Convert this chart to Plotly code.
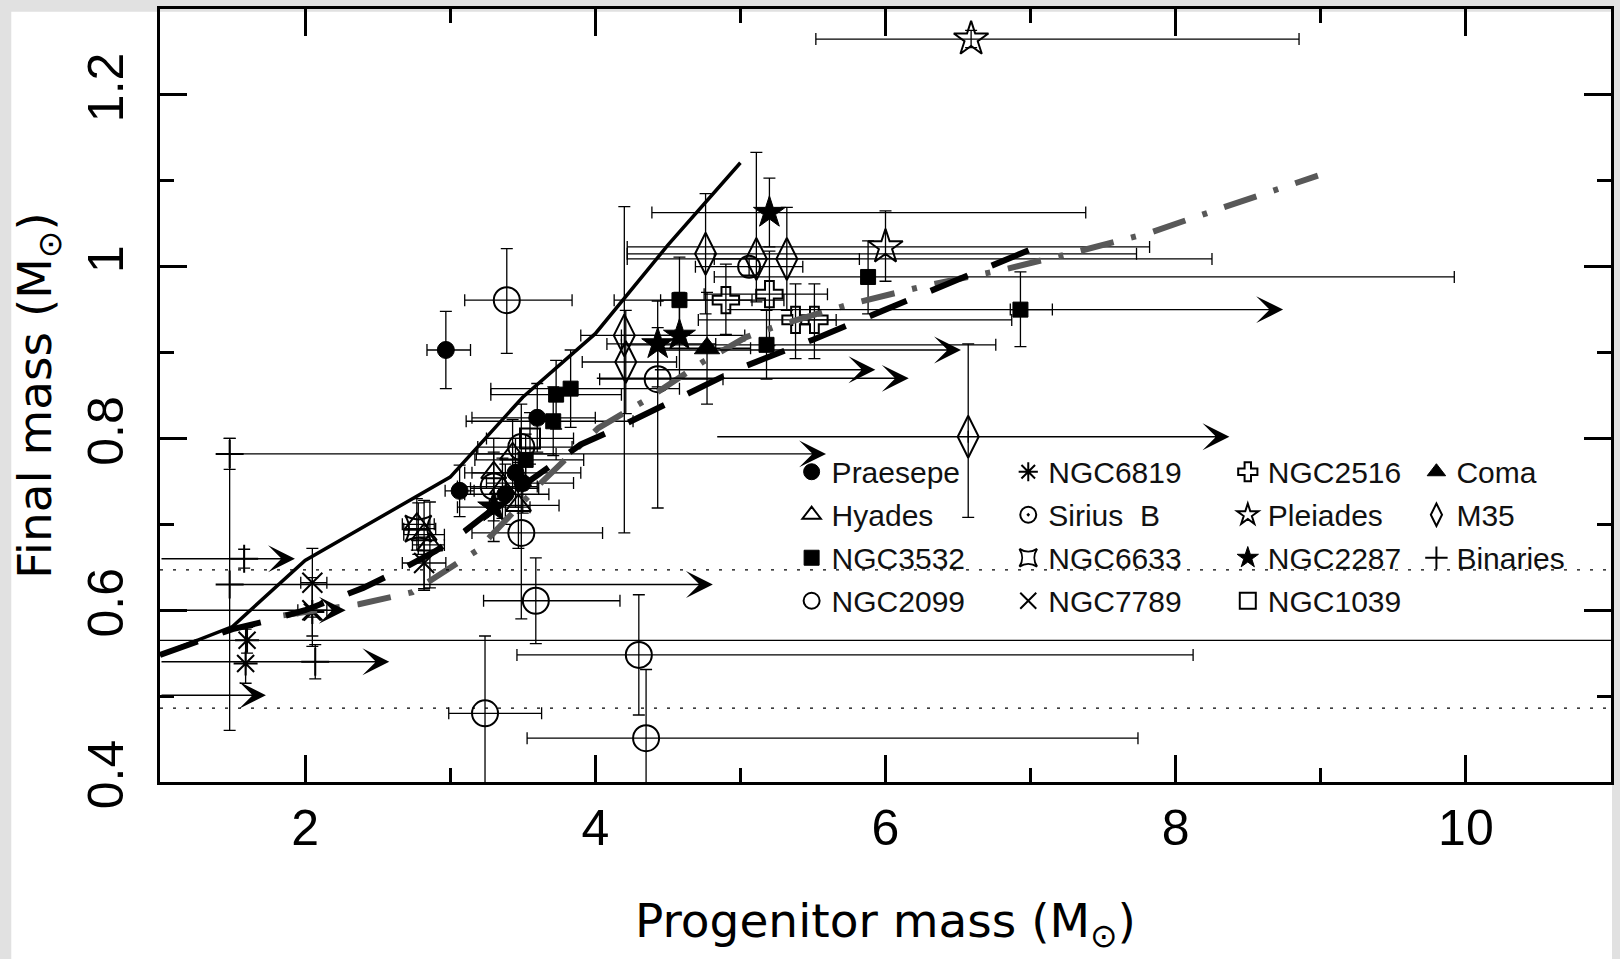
import plotly.graph_objects as go

FONT = "Liberation Sans, Arial, DejaVu Sans, sans-serif"
TFONT = "DejaVu Sans, Liberation Sans, sans-serif"

# ---------------- data ----------------
# model / fit curves
solid_x = [1.0, 1.5, 2.0, 3.0, 3.5, 4.0, 4.5, 5.0]
solid_y = [0.548, 0.581, 0.658, 0.755, 0.848, 0.922, 1.025, 1.121]

dash_x = [1.0, 1.5, 1.75, 2.0, 2.4, 2.67, 2.9, 3.1, 3.5, 3.9, 4.1, 4.6, 5.0, 5.5, 6.0, 6.5, 7.0]
dash_y = [0.548, 0.578, 0.588, 0.600, 0.626, 0.648, 0.669, 0.692, 0.745, 0.793, 0.808, 0.849, 0.882, 0.915, 0.950, 0.984, 1.020]

gray_x = [1.85, 2.37, 2.74, 2.92, 3.18, 3.30, 3.63, 4.02, 4.35, 4.74, 5.04, 5.27, 5.77, 6.28, 6.80, 7.31, 7.83, 8.33, 8.98]
gray_y = [0.594, 0.607, 0.621, 0.640, 0.669, 0.690, 0.749, 0.812, 0.845, 0.889, 0.918, 0.932, 0.957, 0.978, 0.996, 1.017, 1.040, 1.069, 1.106]

# dotted reference levels
dotted_y = [0.647, 0.486]

# clusters: x, y, x-err minus, x-err plus, y-err minus, y-err plus
praesepe_x = [2.97, 3.065, 3.60, 3.45, 3.50, 3.38]
praesepe_y = [0.903, 0.739, 0.824, 0.760, 0.748, 0.735]
praesepe_exm = [0.13, 0.10, 0.45, 0.30, 0.25, 0.28]
praesepe_exp = [0.17, 0.10, 0.40, 0.45, 0.35, 0.30]
praesepe_eym = [0.045, 0.03, 0.04, 0.04, 0.035, 0.035]
praesepe_eyp = [0.045, 0.03, 0.04, 0.04, 0.035, 0.035]

hyades_x = [2.77, 2.82, 2.86, 3.30, 3.36, 3.43, 3.47]
hyades_y = [0.700, 0.688, 0.676, 0.760, 0.742, 0.782, 0.722]
hyades_exm = [0.10, 0.14, 0.12, 0.20, 0.22, 0.25, 0.20]
hyades_exp = [0.12, 0.14, 0.10, 0.22, 0.25, 0.30, 0.28]
hyades_eym = [0.03, 0.065, 0.05, 0.04, 0.035, 0.04, 0.05]
hyades_eyp = [0.03, 0.040, 0.05, 0.04, 0.035, 0.04, 0.05]

ngc3532_x = [3.52, 3.71, 3.73, 3.83, 4.58, 5.18, 5.88, 6.93]
ngc3532_y = [0.775, 0.820, 0.851, 0.858, 0.961, 0.909, 0.988, 0.950]
ngc3532_exm = [0.35, 0.60, 0.45, 0.55, 0.45, 1.00, 1.06, 0.07]
ngc3532_exp = [0.40, 0.55, 0.45, 0.75, 0.50, 1.58, 4.04, 0.22]
ngc3532_eym = [0.03, 0.04, 0.04, 0.045, 0.05, 0.04, 0.043, 0.043]
ngc3532_eyp = [0.03, 0.04, 0.04, 0.045, 0.05, 0.04, 0.042, 0.044]

ngc2099_x = [3.39, 3.49, 3.59, 4.30, 3.24, 4.35, 4.43, 3.30, 3.49]
ngc2099_y = [0.961, 0.690, 0.611, 0.548, 0.480, 0.451, 0.869, 0.744, 0.790]
ngc2099_exm = [0.29, 0.34, 0.36, 0.84, 0.25, 0.82, 0.40, 0.25, 0.30]
ngc2099_exp = [0.45, 0.56, 0.58, 3.82, 0.39, 3.39, 0.45, 0.30, 0.35]
ngc2099_eym = [0.062, 0.10, 0.05, 0.07, 0.10, 0.06, 0.15, 0.04, 0.05]
ngc2099_eyp = [0.060, 0.05, 0.05, 0.07, 0.09, 0.08, 0.06, 0.04, 0.05]

ngc6819_x = [1.60, 1.59, 2.05]
ngc6819_y = [0.565, 0.538, 0.598]
ngc6819_exm = [1.0, None, None]
ngc6819_exp = [9.5, None, None]
ngc6819_eym = [0.015, 0.023, 0.04]
ngc6819_eyp = [0.015, 0.040, 0.04]

siriusb_x = [5.06]
siriusb_y = [1.000]
siriusb_exm = [0.37]
siriusb_exp = [0.37]
siriusb_eym = [0.01]
siriusb_eyp = [0.01]

ngc6633_x = [2.78]
ngc6633_y = [0.695]
ngc6633_exm = [0.10]
ngc6633_exp = [0.12]
ngc6633_eym = [0.03]
ngc6633_eyp = [0.03]

ngc7789_x = [2.05, 2.05, 2.82]
ngc7789_y = [0.632, 0.600, 0.655]
ngc7789_exm = [0.08, 0.10, 0.15]
ngc7789_exp = [0.10, 0.10, 0.15]
ngc7789_eym = [0.04, 0.03, 0.03]
ngc7789_eyp = [0.04, 0.03, 0.03]

ngc2516_x = [4.90, 5.20, 5.38, 5.51]
ngc2516_y = [0.961, 0.968, 0.938, 0.938]
ngc2516_exm = [0.45, 0.45, 0.67, 0.15]
ngc2516_exp = [0.40, 0.40, 1.49, 0.15]
ngc2516_eym = [0.040, 0.06, 0.045, 0.045]
ngc2516_eyp = [0.042, 0.05, 0.042, 0.042]

pleiades_x = [6.59, 6.00]
pleiades_y = [1.265, 1.023]
pleiades_exm = [1.07, 1.78]
pleiades_exp = [2.26, 1.82]
pleiades_eym = [0.010, 0.040]
pleiades_eyp = [0.010, 0.042]

ngc2287_x = [5.20, 4.58, 4.43, 3.30]
ngc2287_y = [1.063, 0.920, 0.910, 0.720]
ngc2287_exm = [0.81, 0.40, 0.35, 0.25]
ngc2287_exp = [2.18, 0.45, 0.40, 0.25]
ngc2287_eym = [0.04, 0.05, 0.05, 0.04]
ngc2287_eyp = [0.04, 0.05, 0.05, 0.04]

ngc1039_x = [3.55]
ngc1039_y = [0.800]
ngc1039_exm = [0.30]
ngc1039_exp = [0.30]
ngc1039_eym = [0.03]
ngc1039_eyp = [0.03]

coma_x = [4.77]
coma_y = [0.905]
coma_exm = [0.30]
coma_exp = [0.30]
coma_eym = [0.065]
coma_eyp = [0.065]

m35_x = [4.76, 5.11, 5.32, 4.20, 4.21, 6.57]
m35_y = [1.015, 1.009, 1.009, 0.920, 0.889, 0.802]
m35_exm = [0.54, 0.89, 0.50, 0.30, 0.30, None]
m35_exp = [2.97, 3.14, 0.50, 0.35, 0.35, None]
m35_eym = [0.07, 0.05, 0.06, 0.23, 0.06, 0.094]
m35_eyp = [0.07, 0.124, 0.06, 0.15, 0.06, 0.108]

binaries_x = [1.58, 2.07, 1.48, 1.48]
binaries_y = [0.660, 0.540, 0.630, 0.782]
binaries_eym = [0.011, 0.02, 0.17, 0.018]
binaries_eyp = [0.011, 0.02, 0.17, 0.018]

# lower limits in progenitor mass (arrows): start x, end x, y
ll_x0 = [1.0, 1.0, 1.0, 1.0, 1.48, 1.48, 4.83, 4.90, 4.40, 4.40, 4.00]
ll_x1 = [1.93, 2.28, 2.58, 1.73, 4.81, 5.59, 8.37, 8.74, 6.52, 5.93, 6.16]
ll_y = [0.660, 0.600, 0.540, 0.501, 0.630, 0.782, 0.802, 0.950, 0.903, 0.880, 0.870]

x_ticks = [2, 4, 6, 8, 10]
y_ticks = [0.4, 0.6, 0.8, 1.0, 1.2]
y_ticktext = ["0.4", "0.6", "0.8", "1", "1.2"]

# ---------------- figure ----------------
fig = go.Figure()


def err(arr_p, arr_m):
    return dict(type="data", symmetric=False, array=arr_p, arrayminus=arr_m,
                color="black", thickness=1.3, width=6)


def add_group(name, legend, x, y, exm, exp, eym, eyp, symbol, size, lw=2):
    kw = {}
    if exm is not None:
        kw["error_x"] = err(exp, exm)
    kw["error_y"] = err(eyp, eym)
    fig.add_trace(go.Scatter(
        x=x, y=y, mode="markers", name=name, legend=legend, legendgroup=name,
        marker=dict(symbol=symbol, size=size, color="black",
                    line=dict(color="black", width=lw)),
        **kw))


# column 1
add_group("Praesepe", "legend", praesepe_x, praesepe_y, praesepe_exm, praesepe_exp,
          praesepe_eym, praesepe_eyp, "circle", 17, 1)
add_group("Hyades", "legend", hyades_x, hyades_y, hyades_exm, hyades_exp,
          hyades_eym, hyades_eyp, "triangle-up-open", 22)
add_group("NGC3532", "legend", ngc3532_x, ngc3532_y, ngc3532_exm, ngc3532_exp,
          ngc3532_eym, ngc3532_eyp, "square", 15, 1)
add_group("NGC2099", "legend", ngc2099_x, ngc2099_y, ngc2099_exm, ngc2099_exp,
          ngc2099_eym, ngc2099_eyp, "circle-open", 26)
# column 2
add_group("NGC6819", "legend2", ngc6819_x, ngc6819_y, ngc6819_exm, ngc6819_exp,
          ngc6819_eym, ngc6819_eyp, "asterisk-open", 20)
add_group("Sirius  B", "legend2", siriusb_x, siriusb_y, siriusb_exm, siriusb_exp,
          siriusb_eym, siriusb_eyp, "circle-open-dot", 22)
add_group("NGC6633", "legend2", ngc6633_x, ngc6633_y, ngc6633_exm, ngc6633_exp,
          ngc6633_eym, ngc6633_eyp, "star-square-open", 24)
add_group("NGC7789", "legend2", ngc7789_x, ngc7789_y, ngc7789_exm, ngc7789_exp,
          ngc7789_eym, ngc7789_eyp, "x-thin-open", 20)
# column 3
add_group("NGC2516", "legend3", ngc2516_x, ngc2516_y, ngc2516_exm, ngc2516_exp,
          ngc2516_eym, ngc2516_eyp, "cross-open", 22)
add_group("Pleiades", "legend3", pleiades_x, pleiades_y, pleiades_exm, pleiades_exp,
          pleiades_eym, pleiades_eyp, "star-open", 26)
add_group("NGC2287", "legend3", ngc2287_x, ngc2287_y, ngc2287_exm, ngc2287_exp,
          ngc2287_eym, ngc2287_eyp, "star", 24, 1)
add_group("NGC1039", "legend3", ngc1039_x, ngc1039_y, ngc1039_exm, ngc1039_exp,
          ngc1039_eym, ngc1039_eyp, "square-open", 20)
# column 4
add_group("Coma", "legend4", coma_x, coma_y, coma_exm, coma_exp,
          coma_eym, coma_eyp, "triangle-up", 22, 1)
add_group("M35", "legend4", m35_x, m35_y, m35_exm, m35_exp,
          m35_eym, m35_eyp, "diamond-tall-open", 30)
add_group("Binaries", "legend4", binaries_x, binaries_y, None, None,
          binaries_eym, binaries_eyp, "cross-thin-open", 20)

# curves
fig.add_trace(go.Scatter(x=gray_x, y=gray_y, mode="lines", showlegend=False,
                         line=dict(color="rgb(88,88,88)", width=6,
                                   dash="34px,18px,5px,18px")))
fig.add_trace(go.Scatter(x=dash_x, y=dash_y, mode="lines", showlegend=False,
                         line=dict(color="black", width=6, dash="40px,26px")))
fig.add_trace(go.Scatter(x=solid_x, y=solid_y, mode="lines", showlegend=False,
                         line=dict(color="black", width=3.5)))

# dotted levels
for yv in dotted_y:
    fig.add_hline(y=yv, line=dict(color="black", width=1.3, dash="3px,10px"))

# lower-limit arrows
for x0, x1, yv in zip(ll_x0, ll_x1, ll_y):
    fig.add_annotation(x=x1, y=yv, ax=x0, ay=yv, xref="x", yref="y",
                       axref="x", ayref="y", text="", showarrow=True,
                       arrowhead=3, arrowsize=3.2, arrowwidth=1.4,
                       arrowcolor="black", standoff=0)

# light grey page border bands
for x0, x1, y0, y1 in [(-0.2, -0.1025, -0.3, 1.05), (-0.2, 1.1, 0.9965, 1.05),
                       (1.0007, 1.1, -0.3, 1.05)]:
    fig.add_shape(type="rect", xref="paper", yref="paper", x0=x0, x1=x1,
                  y0=y0, y1=y1, fillcolor="#e1e1e1", line=dict(width=0),
                  layer="below")

legend_common = dict(xanchor="left", yanchor="top", bgcolor="rgba(0,0,0,0)",
                     font=dict(family=FONT, size=30, color="#111"),
                     tracegroupgap=1, itemwidth=30, borderwidth=0)

axis_common = dict(showline=True, linewidth=2.5, linecolor="black", mirror="ticks",
                   ticks="inside", ticklen=27, tickwidth=2.5, tickcolor="black",
                   showgrid=False, zeroline=False,
                   tickfont=dict(family=FONT, size=50, color="black"))

fig.update_layout(
    width=1620, height=959,
    margin=dict(l=160, r=6, t=6, b=177),
    paper_bgcolor="white", plot_bgcolor="white",
    hovermode=False,
    legend=dict(x=0.4353, y=0.435, **legend_common),
    legend2=dict(x=0.5846, y=0.435, **legend_common),
    legend3=dict(x=0.7359, y=0.435, **legend_common),
    legend4=dict(x=0.8659, y=0.435, **legend_common),
    xaxis=dict(range=[1, 11], tickvals=x_ticks,
               minor=dict(dtick=1, tick0=1, ticks="inside", ticklen=14,
                          tickwidth=2.5, tickcolor="black"),
               title=dict(text="Progenitor mass (M<sub>⊙</sub>)",
                          font=dict(family=TFONT, size=47, color="black"),
                          standoff=50),
               **axis_common),
    yaxis=dict(range=[0.4, 1.3], tickvals=y_ticks, ticktext=y_ticktext,
               tickangle=-90, ticklabelstandoff=14,
               minor=dict(dtick=0.1, tick0=0.4, ticks="inside", ticklen=14,
                          tickwidth=2.5, tickcolor="black"),
               title=dict(text="Final mass (M<sub>⊙</sub>)",
                          font=dict(family=TFONT, size=47, color="black"),
                          standoff=12),
               **axis_common),
)

fig.write_html("out.html",
               config={"displayModeBar": False},
               post_script="document.body.style.margin='0';"
                           "document.body.style.padding='0';"
                           "document.body.style.overflow='hidden';")
